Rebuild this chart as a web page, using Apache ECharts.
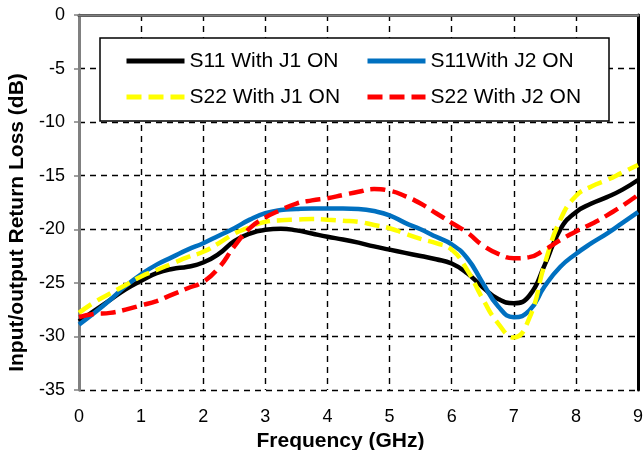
<!DOCTYPE html>
<html>
<head>
<meta charset="utf-8">
<script src="https://cdn.jsdelivr.net/npm/echarts@6/dist/echarts.min.js"></script>
<style>
  html, body { margin: 0; padding: 0; background: #fff; }
  #chart { width: 643px; height: 450px; }
</style>
</head>
<body>
<div id="chart"></div>
<script>
// frequency points (GHz)
var freq = [0, 0.25, 0.5, 0.75, 1, 1.25, 1.5, 1.75, 2, 2.25, 2.5, 2.75, 3, 3.25, 3.5, 3.75,
            4, 4.25, 4.5, 4.75, 5, 5.25, 5.5, 5.75, 6, 6.25, 6.5, 6.75, 7, 7.25, 7.5, 7.75,
            8, 8.25, 8.5, 8.75, 9];

var s11J1 = [-28.6, -27.6, -26.6, -25.6, -24.8, -24.1, -23.7, -23.5, -23.1, -22.3, -21.1, -20.4,
             -20.05, -19.95, -20.1, -20.4, -20.7, -20.95, -21.25, -21.6, -21.9, -22.2, -22.5, -22.8,
             -23.2, -24.1, -25.4, -26.5, -26.9, -26.2, -23.3, -20.0, -18.4, -17.6, -17.0, -16.3, -15.4];

var s11J2 = [-28.9, -27.8, -26.6, -25.3, -24.2, -23.3, -22.6, -21.9, -21.3, -20.6, -19.9, -19.1,
             -18.5, -18.2, -18.1, -18.05, -18.05, -18.05, -18.1, -18.3, -18.7, -19.4, -20.0, -20.7,
             -21.4, -22.7, -25.0, -27.2, -28.2, -27.6, -25.3, -23.5, -22.3, -21.3, -20.4, -19.4, -18.4];

var s22J1 = [-27.8, -26.8, -26.0, -25.2, -24.4, -23.8, -23.2, -22.6, -22.1, -21.3, -20.4, -19.8,
             -19.3, -19.15, -19.1, -19.05, -19.1, -19.2, -19.3, -19.6, -19.9, -20.4, -20.9, -21.3,
             -21.9, -23.8, -26.5, -28.8, -30.1, -28.3, -23.2, -19.1, -16.9, -16.0, -15.4, -14.7, -14.0];

var s22J2 = [-28.2, -27.9, -27.8, -27.5, -27.1, -26.7, -26.1, -25.5, -24.9, -23.6, -21.6, -19.9,
             -18.9, -18.2, -17.6, -17.3, -17.1, -16.8, -16.5, -16.25, -16.4, -16.9, -17.6, -18.5,
             -19.4, -20.3, -21.5, -22.3, -22.7, -22.6, -21.9, -21.0, -20.2, -19.5, -18.7, -17.8, -16.8];

var names = ['S11 With J1 ON', 'S11With J2 ON', 'S22 With J1 ON', 'S22 With J2 ON'];

function pairs(ys) {
    return freq.map(function (f, i) { return [f, ys[i]]; });
}

var font = 'Liberation Sans, Arial, sans-serif';
var gridDash = { color: '#000', width: 1.4, type: [6, 5] };

function legendAt(left, data) {
    return {
        data: data,
        orient: 'vertical',
        left: left, top: 49,
        padding: 0,
        itemWidth: 58, itemHeight: 24, itemGap: 12,
        itemStyle: { opacity: 0 },
        lineStyle: { width: 5 },
        textStyle: { fontFamily: font, fontSize: 21, color: '#000', lineHeight: 24 },
        z: 60
    };
}

var myChart = echarts.init(document.getElementById('chart'));
var option = {
    animation: false,
    backgroundColor: '#fff',
    grid: { left: 79, right: 5, top: 15, bottom: 60, outerBoundsMode: 'none' },
    graphic: [{
        type: 'rect',
        shape: { x: 100, y: 38, width: 509, height: 83 },
        style: { fill: '#fff', stroke: '#000', lineWidth: 1.5 },
        z: 50
    }],
    legend: [legendAt(124, [names[0], names[2]]), legendAt(365, [names[1], names[3]])],
    xAxis: [{
        type: 'value', min: 0, max: 9, interval: 1,
        name: 'Frequency (GHz)', nameLocation: 'middle', nameGap: 36,
        nameTextStyle: { fontFamily: font, fontSize: 21, fontWeight: 'bold', color: '#000', padding: [0, 36, 0, 0] },
        axisLine: { lineStyle: { color: '#000', width: 3 } },
        axisTick: { show: false },
        axisLabel: { fontFamily: font, fontSize: 18, color: '#000', margin: 18 },
        splitLine: { show: true, lineStyle: gridDash }
    }, {
        type: 'value', min: 0, max: 9, position: 'top',
        axisLine: { onZero: false, lineStyle: { color: '#808080', width: 2.5 } },
        axisTick: { show: false }, axisLabel: { show: false }, splitLine: { show: false }
    }],
    yAxis: [{
        type: 'value', min: -35, max: 0, interval: 5,
        name: 'Input/output Return Loss (dB)', nameLocation: 'middle', nameGap: 49,
        nameTextStyle: { fontFamily: font, fontSize: 21, fontWeight: 'bold', color: '#000', padding: [0, 40, 0, 0] },
        axisLine: { onZero: false, lineStyle: { color: '#808080', width: 3 } },
        axisTick: { show: true, length: 5, lineStyle: { color: '#808080', width: 1.5 } },
        axisLabel: { fontFamily: font, fontSize: 18, color: '#000', margin: 14 },
        splitLine: { show: true, lineStyle: gridDash }
    }, {
        type: 'value', min: -35, max: 0, position: 'right',
        axisLine: { show: true, onZero: false, lineStyle: { color: '#000', width: 3 } },
        axisTick: { show: false }, axisLabel: { show: false }, splitLine: { show: false }
    }],
    series: [{
        name: names[0], type: 'line', data: pairs(s11J1), smooth: true,
        symbol: 'none', lineStyle: { color: '#000', width: 4.5 }, itemStyle: { color: '#000' }
    }, {
        name: names[1], type: 'line', data: pairs(s11J2), smooth: true,
        symbol: 'none', lineStyle: { color: '#0070C0', width: 4.5 }, itemStyle: { color: '#0070C0' }
    }, {
        name: names[2], type: 'line', data: pairs(s22J1), smooth: true,
        symbol: 'none', lineStyle: { color: '#FFFF00', width: 4.5, type: [15, 7] }, itemStyle: { color: '#FFFF00' }
    }, {
        name: names[3], type: 'line', data: pairs(s22J2), smooth: true,
        symbol: 'none', lineStyle: { color: '#FF0000', width: 4.5, type: [15, 7] }, itemStyle: { color: '#FF0000' }
    }]
};
myChart.setOption(option, true);
</script>
</body>
</html>
